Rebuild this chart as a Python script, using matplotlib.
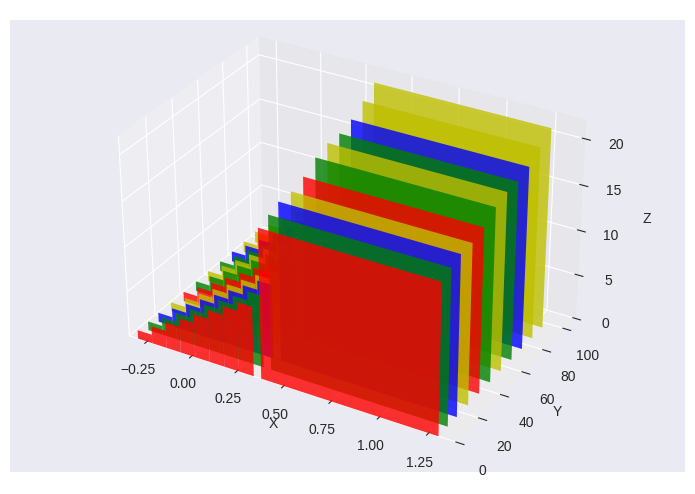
import numpy as np
import matplotlib
matplotlib.use("Agg")
import matplotlib.pyplot as plt
from matplotlib.patches import Rectangle

plt.style.use('seaborn-v0_8-darkgrid')

slice_y = [0, 8, 16, 26, 36, 46, 56, 66, 76, 86, 96]
slice_colors = ['r', 'g', 'b', 'y', 'r', 'g', 'y', 'g', 'b', 'y', 'y']
slice_heights = [16.5, 17, 17.5, 17.5, 18, 19, 19.5, 19.5, 20, 21, 22]
stair_x = [-0.26, -0.18, -0.10, -0.02, 0.06, 0.14, 0.22, 0.30]
stair_h = [1, 2, 3, 4, 5, 6, 7, 8]
big_x = 0.84
big_w = 0.92

fig = plt.figure(figsize=(6.95, 4.94), dpi=100, facecolor='white')
fig.patches.append(Rectangle((0.015, 0.045), 0.97, 0.915, transform=fig.transFigure,
                             facecolor='#EAEAF2', edgecolor='none', zorder=-10))
ax = fig.add_axes([0.015, 0.065, 0.97, 0.915], projection='3d')
ax.patch.set_alpha(0)
ax.set_box_aspect((1.4, 0.95, 0.85), zoom=1.1)
for y, c, h in zip(slice_y, slice_colors, slice_heights):
    ax.bar(stair_x, [s * h / 17 for s in stair_h], width=0.08, zs=y, zdir='y', color=c, alpha=0.8)
    ax.bar([big_x], [h], width=big_w, zs=y, zdir='y', color=c, alpha=0.8)

ax.set_xlim(-0.35, 1.4)
ax.set_ylim(0, 110)
ax.set_zlim(0, 22)
ax.set_xticks([-0.25, 0, 0.25, 0.5, 0.75, 1.0, 1.25])
ax.set_yticks([0, 20, 40, 60, 80, 100])
ax.set_zticks([0, 5, 10, 15, 20])
ax.set_xlabel('X', labelpad=-2)
ax.set_ylabel('Y', labelpad=-2)
ax.set_zlabel('Z')
fig.savefig('out.png', dpi=100)
